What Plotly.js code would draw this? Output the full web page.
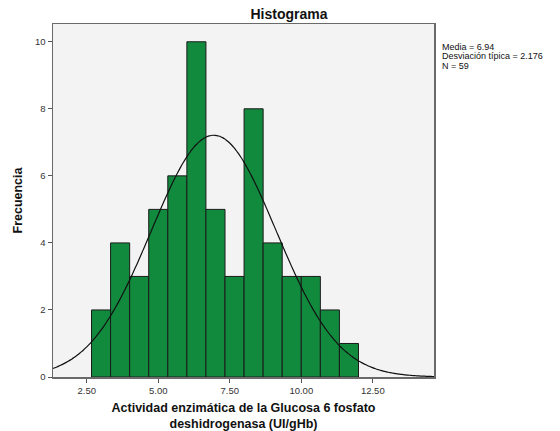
<!DOCTYPE html>
<html>
<head>
<meta charset="utf-8">
<script src="https://cdn.plot.ly/plotly-3.0.1.min.js"></script>
<style>html,body{margin:0;padding:0;background:#fff;}#chart{width:560px;height:431px;}</style>
</head>
<body>
<div id="chart"></div>
<script>
// Histogram data
var binStart = 8/3;      // first bin's left edge
var binWidth = 2/3;
var counts = [2, 4, 3, 5, 6, 10, 5, 3, 8, 4, 3, 3, 2, 1];
var xTickVals = [2.5, 5.0, 7.5, 10.0, 12.5];
var yTickVals = [0, 2, 4, 6, 8, 10];
var media = 6.94;
var desviacion = 2.176;
var nTotal = 59;

var centers = counts.map(function (c, i) { return binStart + binWidth * (i + 0.5); });

// Normal curve fitted by the chart (from its stated mean, sd and N)
var xMin = 1.32, xMax = 14.64;
var curveX = [], curveY = [];
var steps = 200;
for (var k = 0; k <= steps; k++) {
  var x = xMin + (xMax - xMin) * k / steps;
  var z = (x - media) / desviacion;
  curveX.push(x);
  curveY.push(nTotal * binWidth * Math.exp(-0.5 * z * z) / (desviacion * Math.sqrt(2 * Math.PI)));
}

var bars = {
  type: 'bar',
  x: centers,
  y: counts,
  width: binWidth,
  marker: { color: '#128a3e', line: { color: '#1a1a1a', width: 1 } },
  hoverinfo: 'x+y',
  showlegend: false
};
var curve = {
  type: 'scatter',
  mode: 'lines',
  x: curveX,
  y: curveY,
  line: { color: '#111', width: 1.2, shape: 'spline' },
  showlegend: false,
  hoverinfo: 'skip'
};

var font = 'Liberation Sans, Arial, sans-serif';
var statLines = [
  'Media = ' + media.toFixed(2),
  'Desviación típica = ' + desviacion.toFixed(3),
  'N = ' + nTotal
];
var statY = [0.936, 0.908, 0.881];
var annotations = statLines.map(function (t, i) {
  return {
    xref: 'paper', yref: 'paper',
    x: 1.015, y: statY[i],
    xanchor: 'left', yanchor: 'middle', align: 'left',
    showarrow: false,
    text: t,
    font: { family: font, size: 9, color: '#111' }
  };
});

var layout = {
  width: 560,
  height: 431,
  margin: { l: 53, r: 126, t: 24, b: 54 },
  paper_bgcolor: '#ffffff',
  plot_bgcolor: '#f3f3f3',
  font: { family: font, color: '#333' },
  bargap: 0,
  title: {
    text: '<b>Histograma</b>',
    font: { family: font, size: 14, color: '#111' },
    x: 0.516, xref: 'container', xanchor: 'center',
    y: 0.967, yref: 'container', yanchor: 'middle'
  },
  xaxis: {
    range: [xMin, xMax],
    tickvals: xTickVals,
    tickformat: '.2f',
    ticks: 'outside', ticklen: 4, tickcolor: '#555',
    tickfont: { size: 9.5, color: '#333', family: font },
    showgrid: false, zeroline: false,
    showline: true, linecolor: '#6a6a6a', linewidth: 1.5, mirror: true,
    title: {
      text: '<b>Actividad enzimática de la Glucosa 6 fosfato<br>deshidrogenasa (UI/gHb)</b>',
      font: { family: font, size: 12.5, color: '#111' },
      standoff: 9
    }
  },
  yaxis: {
    range: [0, 10.53],
    tickvals: yTickVals,
    ticks: 'outside', ticklen: 4, tickcolor: '#555',
    tickfont: { size: 9.5, color: '#333', family: font },
    showgrid: false, zeroline: false,
    showline: true, linecolor: '#6a6a6a', linewidth: 1.5, mirror: true,
    title: {
      text: '<b>Frecuencia</b>',
      font: { family: font, size: 12.5, color: '#111' },
      standoff: 9
    }
  },
  annotations: annotations
};

Plotly.newPlot('chart', [bars, curve], layout, { displayModeBar: false, staticPlot: true });
</script>
</body>
</html>
